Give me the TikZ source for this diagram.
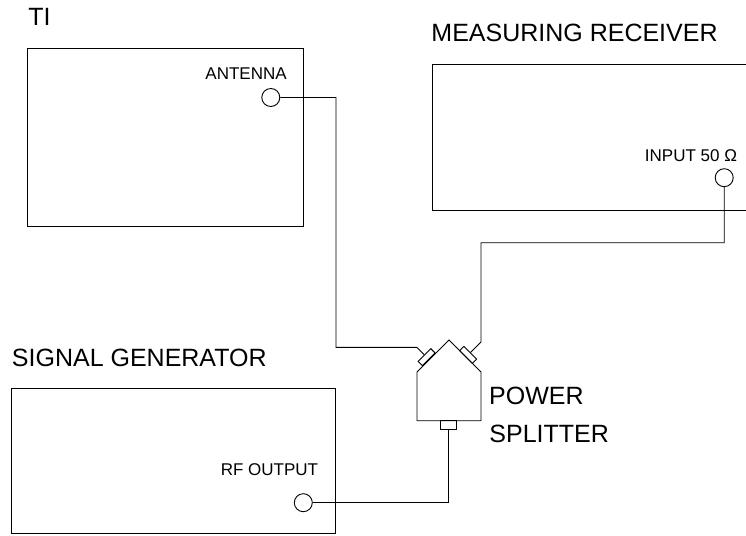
\documentclass[tikz,border=0pt]{standalone}
\usepackage{fontspec}
\setmainfont{Liberation Sans}
\begin{document}
\begin{tikzpicture}[x=1pt,y=-1pt,line width=0.9pt,
                        jack/.style={draw,circle,minimum size=18pt,inner sep=0pt},
                        port/.style={draw,rectangle,minimum width=18pt,minimum height=6pt,inner sep=0pt},
                        biglabel/.style={anchor=base west,inner sep=0pt,font=\fontsize{25}{30}\selectfont},
                        smalllabel/.style={anchor=base west,inner sep=0pt,font=\fontsize{17}{20}\selectfont}]
                        \useasboundingbox (0.000000,0.000000) rectangle (746.000000,535.000000);
                        \clip (0.000000,0.000000) rectangle (746.000000,535.000000);
                        
                        % Drawing box TI
                        \draw (27.300000,48.700000) rectangle (303.300000,226.700000);%
                        \node [biglabel] (tilabel) at (27.800000,26.000000) {TI};%
                        \node [smalllabel] (antlabel) at (205.000000,79.000000) {ANTENNA};%
                        \node [jack] (ant) at (270.800000,97.500000) {};%
                        
                        % Drawing box measuring receiver
                        \draw (432.300000,64.300000) rectangle (760.000000,210.000000);%
                        \node [biglabel] (mrlabel) at (431.000000,41.700000) {MEASURING RECEIVER};%
                        \node [smalllabel] (inplabel) at (644.500000,161.000000) {INPUT 50 Ω};%
                        \node [jack] (inp) at (724.200000,177.700000) {};%
                        
                        % Drawing box signal generator
                        \draw (11.700000,388.300000) rectangle (335.000000,533.300000);%
                        \node [biglabel] (sglabel) at (11.500000,366.000000) {SIGNAL GENERATOR};%
                        \node [smalllabel] (rflabel) at (220.400000,475.700000) {RF OUTPUT};%
                        \node [jack] (rf) at (303.300000,502.700000) {};%
                        
                        % Drawing power splitter
                        \draw (449.000000,340.000000) -- (417.000000,372.000000) -- (417.000000,420.700000) -- (481.000000,420.700000) -- (481.000000,372.000000) -- cycle;%
                        \node [port,rotate=45] (pl) at (426.600000,357.200000) {};%
                        \node [port,rotate=-45] (pr) at (468.100000,354.900000) {};%
                        \node [port,minimum width=16pt,minimum height=8.6pt] (pb) at (448.700000,425.000000) {};%
                        \node [biglabel] (pslabel) at (488.700000,404.000000) {POWER};%
                        \node [biglabel] (pslabelb) at (489.000000,442.700000) {SPLITTER};%
                        
                        % Drawing cable antenna - splitter
                        \coordinate (al) at (336.000000,347.300000);%
                        \coordinate (kl) at (416.700000,347.300000);%
                        \draw (ant.east) -| (al) -- (kl) -- (pl.north);%
                        
                        % Drawing cable receiver - splitter
                        \coordinate (ar) at (481.000000,242.700000);%
                        \coordinate (kr) at (481.000000,342.000000);%
                        \draw (inp.south) |- (ar) -- (kr) -- (pr.north);%
                        
                        % Drawing cable generator - splitter
                        \draw (rf.east) -| (pb.south);%
                    \end{tikzpicture}
\end{document}
